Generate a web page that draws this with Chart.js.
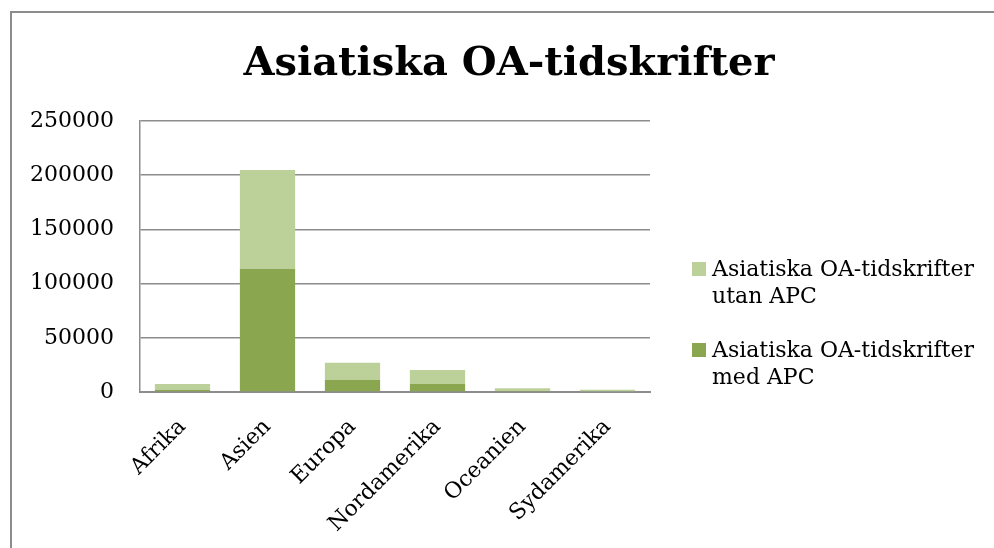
<!DOCTYPE html>
<html>
<head>
<meta charset="utf-8">
<script src="https://cdn.jsdelivr.net/npm/chart.js@4.4.0/dist/chart.umd.min.js"></script>
<style>
  html, body { margin: 0; padding: 0; background: #fff; }
  body { width: 994px; height: 548px; overflow: hidden; position: relative; font-family: 'DejaVu Serif', serif; }
  #frame { position: absolute; left: 10px; top: 11px; width: 990px; height: 545px; border-left: 2px solid #8c8c8c; border-top: 2px solid #8c8c8c; }
  #wrap { position: absolute; left: 12px; top: 13px; width: 982px; height: 535px; }
  #legend { position: absolute; left: 692px; top: 255px; font-size: 22px; color: #000; line-height: 27px; }
  .item { position: relative; padding-left: 20px; margin-bottom: 27px; white-space: nowrap; }
  .swatch { position: absolute; left: 0; top: 7px; width: 14px; height: 14px; }
</style>
</head>
<body>
<div id="frame"></div>
<div id="wrap"><canvas id="chart"></canvas></div>
<div id="legend"></div>
<script>
const categories = ['Afrika', 'Asien', 'Europa', 'Nordamerika', 'Oceanien', 'Sydamerika'];
const medAPC = [2100, 113600, 11400, 7700, 1200, 800];
const utanAPC = [5300, 91300, 15500, 12700, 2200, 1300];
const yTicks = [0, 50000, 100000, 150000, 200000, 250000];

const darkGreen = '#8aa64f';
const lightGreen = '#bcd19a';

const datasets = [
    { label: ['Asiatiska OA-tidskrifter', 'med APC'], data: medAPC, backgroundColor: darkGreen },
    { label: ['Asiatiska OA-tidskrifter', 'utan APC'], data: utanAPC, backgroundColor: lightGreen }
];

// legend on the right, light series first like the original
const legend = document.getElementById('legend');
datasets.slice().reverse().forEach(ds => {
    const item = document.createElement('div');
    item.className = 'item';
    const sw = document.createElement('span');
    sw.className = 'swatch';
    sw.style.background = ds.backgroundColor;
    item.appendChild(sw);
    item.appendChild(document.createTextNode(ds.label[0]));
    item.appendChild(document.createElement('br'));
    item.appendChild(document.createTextNode(ds.label[1]));
    legend.appendChild(item);
});

new Chart(document.getElementById('chart'), {
    type: 'bar',
    data: {
        labels: categories,
        datasets: datasets.map(ds => ({
            label: ds.label.join(' '),
            data: ds.data,
            backgroundColor: ds.backgroundColor,
            barPercentage: 0.65,
            categoryPercentage: 1
        }))
    },
    options: {
        responsive: true,
        maintainAspectRatio: false,
        animation: false,
        layout: { padding: { left: 12, right: 0, top: 0, bottom: 0 } },
        plugins: {
            legend: { display: false },
            tooltip: { enabled: false },
            title: {
                display: true,
                text: 'Asiatiska OA-tidskrifter',
                color: '#000',
                font: { family: 'DejaVu Serif', size: 40, weight: 'bold', lineHeight: 1.2 },
                padding: { top: 28, bottom: 32 }
            }
        },
        scales: {
            x: {
                stacked: true,
                grid: { display: false },
                border: { color: '#8c8c8c', width: 2 },
                ticks: {
                    color: '#000',
                    font: { family: 'DejaVu Serif', size: 22 },
                    maxRotation: 45,
                    minRotation: 45,
                    padding: 14
                },
                afterFit: s => { s.height = 156; }
            },
            y: {
                stacked: true,
                min: 0,
                max: 250000,
                afterBuildTicks: s => { s.ticks = yTicks.map(v => ({ value: v })); },
                grid: { color: '#8c8c8c', lineWidth: 1.5, drawTicks: false },
                border: { color: '#8c8c8c', width: 1.5 },
                ticks: {
                    color: '#000',
                    font: { family: 'DejaVu Serif', size: 22 },
                    padding: 26,
                    callback: v => String(v)
                },
                afterFit: s => { s.width = 116; }
            },
            // empty space on the right where the legend sits
            legendSpace: {
                type: 'linear',
                position: 'right',
                grid: { display: false },
                border: { display: false },
                ticks: { display: false },
                afterFit: s => { s.width = 344; }
            }
        }
    }
});
</script>
</body>
</html>
